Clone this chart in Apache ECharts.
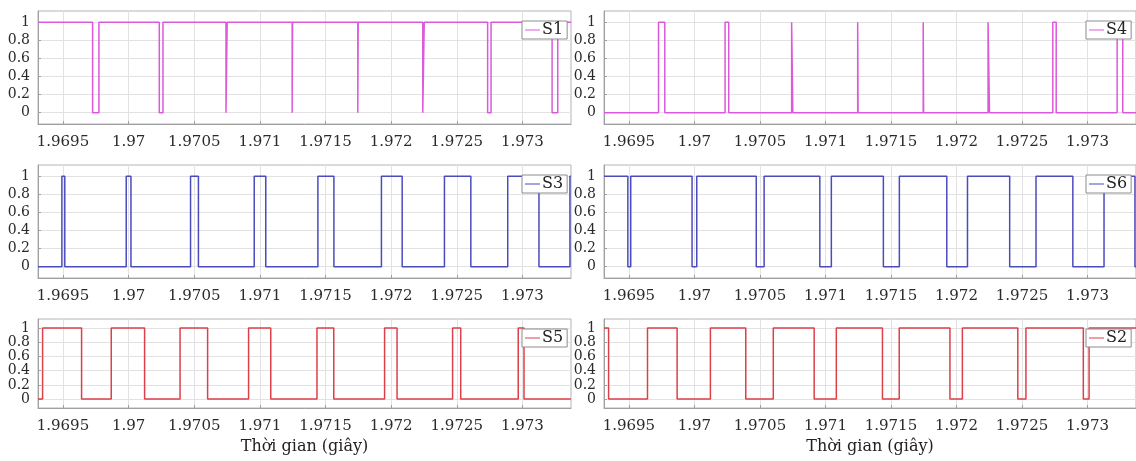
<!DOCTYPE html>
<html>
<head>
<meta charset="utf-8">
<script src="https://cdn.jsdelivr.net/npm/echarts@6/dist/echarts.min.js"></script>
<style>
  html, body { margin: 0; padding: 0; background: #fff; }
  #chart { width: 1136px; height: 461px; }
</style>
</head>
<body>
<div id="chart"></div>
<script>
// time window and tick labels
const xMin = 1.96931
const xMax = 1.97337
const xTicks = [1.9695, 1.97, 1.9705, 1.971, 1.9715, 1.972, 1.9725, 1.973]
const yTicks = [0, 0.2, 0.4, 0.6, 0.8, 1]

// switching edges (seconds), level flips at each edge
const s1Start = 1
const s1Edges = [1.969726, 1.969774, 1.970234, 1.970262, 1.970742, 1.970751,
  1.971246, 1.971249, 1.971746, 1.971749, 1.972241, 1.972252,
  1.972735, 1.972761, 1.973226, 1.973269]

const s3Start = 0
const s3Edges = [1.969492, 1.969514, 1.969982, 1.970018, 1.970472, 1.970532,
  1.970957, 1.971045, 1.971442, 1.971564, 1.971926, 1.972084,
  1.972406, 1.972607, 1.972888, 1.973126, 1.973362]

const s5Start = 0
const s5Edges = [1.969345, 1.969642, 1.969868, 1.970122, 1.970392, 1.970602,
  1.970914, 1.971083, 1.971435, 1.971563, 1.97195, 1.972045,
  1.972468, 1.972530, 1.972968, 1.973012]

const magenta = '#dc58dc'
const blue = '#4b4bbd'
const red = '#dc4049'

// build step points: value holds from t until next edge
function steps(start, edges) {
  const pts = [[xMin, start]]
  let v = start
  edges.forEach(t => {
    v = 1 - v
    pts.push([t, v])
  })
  pts.push([xMax, v])
  return pts
}

const panels = [
  { name: 'S1', color: magenta, data: steps(s1Start, s1Edges), left: 38, right: 565, top: 11, height: 113 },
  { name: 'S4', color: magenta, data: steps(1 - s1Start, s1Edges), left: 604, right: 0, top: 11, height: 113 },
  { name: 'S3', color: blue, data: steps(s3Start, s3Edges), left: 38, right: 565, top: 165, height: 113 },
  { name: 'S6', color: blue, data: steps(1 - s3Start, s3Edges), left: 604, right: 0, top: 165, height: 113 },
  { name: 'S5', color: red, data: steps(s5Start, s5Edges), left: 38, right: 565, top: 319, height: 89, xName: 'Thời gian (giây)' },
  { name: 'S2', color: red, data: steps(1 - s5Start, s5Edges), left: 604, right: 0, top: 319, height: 89, xName: 'Thời gian (giây)' }
]

const font = 'DejaVu Serif'

function fmtX(v) {
  return String(parseFloat(v.toFixed(4)))
}

const chart = echarts.init(document.getElementById('chart'), null, { renderer: 'canvas' })

const option = {
  animation: false,
  backgroundColor: '#fff',
  grid: panels.map(p => ({
    left: p.left, right: p.right, top: p.top, height: p.height,
    show: true, borderColor: '#b4b4b4', borderWidth: 1, backgroundColor: 'transparent'
  })),
  xAxis: panels.map((p, i) => ({
    type: 'value',
    gridIndex: i,
    min: xMin,
    max: xMax,
    name: p.xName || '',
    nameLocation: 'middle',
    nameGap: 31,
    nameTextStyle: { fontFamily: font, fontSize: 16, color: '#222' },
    axisLine: { show: true, onZero: false, lineStyle: { color: '#a0a0a0' } },
    axisTick: { show: true, inside: true, length: 3, customValues: xTicks, lineStyle: { color: '#a0a0a0' } },
    axisLabel: {
      customValues: xTicks, margin: 11,
      fontFamily: font, fontSize: 15, color: '#2a2a2a',
      formatter: fmtX
    },
    splitLine: { show: true, lineStyle: { color: '#e2e2e2', width: 1 } }
  })),
  yAxis: panels.map((p, i) => ({
    type: 'value',
    gridIndex: i,
    min: -0.125,
    max: 1.125,
    axisLine: { show: true, onZero: false, lineStyle: { color: '#a0a0a0' } },
    axisTick: { show: true, inside: true, length: 3, customValues: yTicks, lineStyle: { color: '#a0a0a0' } },
    axisLabel: {
      customValues: yTicks, margin: 8,
      fontFamily: font, fontSize: 14, color: '#2a2a2a'
    },
    splitLine: { show: true, lineStyle: { color: '#e2e2e2', width: 1 } }
  })),
  legend: panels.map((p, i) => ({
    data: [p.name],
    left: i % 2 === 0 ? 522 : 1086,
    top: p.top + 10,
    orient: 'vertical',
    backgroundColor: '#fff',
    borderColor: '#8c8c8c',
    borderWidth: 1,
    borderRadius: 0,
    padding: [1, 4, 1, 3],
    itemWidth: 15,
    itemHeight: 10,
    itemGap: 0,
    icon: 'path://M0,4.5 L15,4.5 L15,5.5 L0,5.5 Z',
    textStyle: { fontFamily: font, fontSize: 16, color: '#222', padding: [0, 0, 0, -3] }
  })),
  series: panels.map((p, i) => ({
    name: p.name,
    type: 'line',
    xAxisIndex: i,
    yAxisIndex: i,
    step: 'end',
    symbol: 'none',
    color: p.color,
    lineStyle: { color: p.color, width: 1.5 },
    data: p.data
  }))
}

chart.setOption(option)
</script>
</body>
</html>
